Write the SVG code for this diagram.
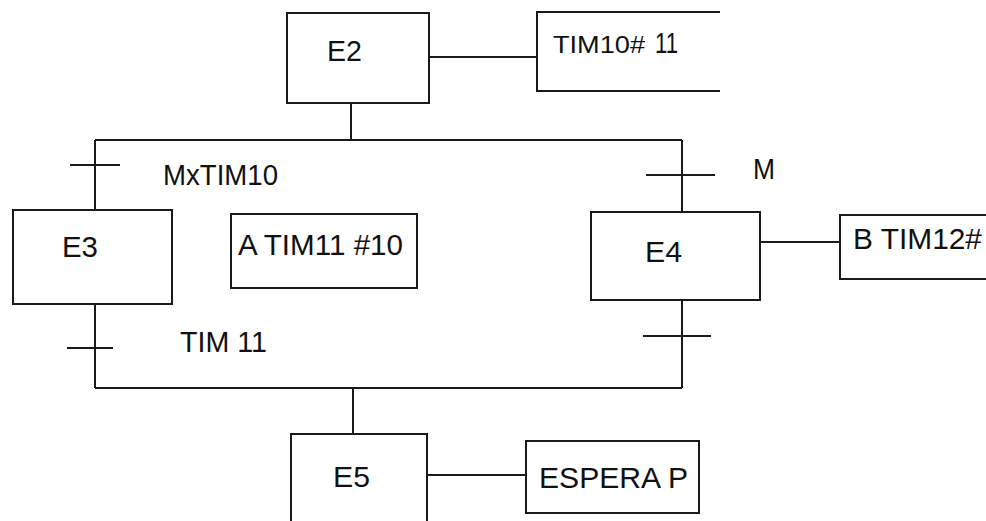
<svg xmlns="http://www.w3.org/2000/svg" width="986" height="521" viewBox="0 0 986 521">
<style>
.b{fill:#fff;stroke:#1a1a1a;stroke-width:2}
.o{fill:none;stroke:#1a1a1a;stroke-width:2}
.l{fill:none;stroke:#1a1a1a;stroke-width:2}
.t{font-family:"Liberation Sans",Arial,sans-serif;font-size:29px;fill:#111}
</style>
<rect width="986" height="521" fill="#fff"/>
<g id="connectors">
<line class="l" x1="351" y1="103" x2="351" y2="140"/>
<line class="l" x1="95" y1="140" x2="682" y2="140"/>
<line class="l" x1="95" y1="140" x2="95" y2="210"/>
<line class="l" x1="70" y1="165" x2="120" y2="165"/>
<line class="l" x1="682" y1="140" x2="682" y2="212"/>
<line class="l" x1="646" y1="175" x2="715" y2="175"/>
<line class="l" x1="95" y1="304" x2="95" y2="388"/>
<line class="l" x1="67" y1="348" x2="113" y2="348"/>
<line class="l" x1="682" y1="300" x2="682" y2="388"/>
<line class="l" x1="643" y1="336" x2="711" y2="336"/>
<line class="l" x1="95" y1="388" x2="682" y2="388"/>
<line class="l" x1="353" y1="388" x2="353" y2="434"/>
<line class="l" x1="429" y1="57" x2="537" y2="57"/>
<line class="l" x1="760" y1="242" x2="840" y2="242"/>
<line class="l" x1="427" y1="475" x2="526" y2="475"/>
</g>
<g id="E2">
<rect class="b" x="287" y="13" width="142" height="90"/>
<text class="t" x="327" y="61" textLength="35" lengthAdjust="spacingAndGlyphs">E2</text>
</g>
<g id="A_TIM10">
<path class="o" d="M720 12 H537 V91 H720"/>
<text class="t" x="553" y="53" font-size="23" textLength="92" lengthAdjust="spacingAndGlyphs" style="font-size:23px">TIM10#</text>
<text class="t" x="655" y="53" textLength="23" lengthAdjust="spacingAndGlyphs">11</text>
</g>
<g id="MxTIM10">
<text class="t" x="163" y="185" textLength="115" lengthAdjust="spacingAndGlyphs">MxTIM10</text>
</g>
<g id="M">
<text class="t" x="753" y="179" textLength="22" lengthAdjust="spacingAndGlyphs">M</text>
</g>
<g id="E3">
<rect class="b" x="13" y="210" width="159" height="94"/>
<text class="t" x="62" y="257" textLength="36" lengthAdjust="spacingAndGlyphs">E3</text>
</g>
<g id="A_TIM11">
<rect class="b" x="231" y="214" width="186" height="74"/>
<text class="t" x="238" y="255" textLength="165" lengthAdjust="spacingAndGlyphs">A TIM11 #10</text>
</g>
<g id="E4">
<rect class="b" x="591" y="212" width="169" height="88"/>
<text class="t" x="645" y="262" textLength="37" lengthAdjust="spacingAndGlyphs">E4</text>
</g>
<g id="B_TIM12">
<path class="o" d="M986 215 H840 V279 H986"/>
<text class="t" x="853" y="249" textLength="129" lengthAdjust="spacingAndGlyphs">B TIM12#</text>
</g>
<g id="TIM11">
<text class="t" x="180" y="352" textLength="87" lengthAdjust="spacingAndGlyphs">TIM 11</text>
</g>
<g id="E5">
<path class="o" d="M291 521 V434 H427 V521"/>
<text class="t" x="333" y="487" textLength="37" lengthAdjust="spacingAndGlyphs">E5</text>
</g>
<g id="ESPERA_P">
<rect class="b" x="526" y="441" width="173" height="72"/>
<text class="t" x="539" y="488" textLength="149" lengthAdjust="spacingAndGlyphs">ESPERA P</text>
</g>
</svg>
